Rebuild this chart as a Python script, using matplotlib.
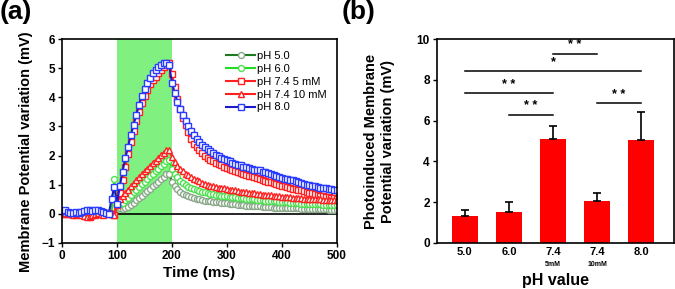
import matplotlib.pyplot as plt
import numpy as np

plt.rcParams['font.family'] = ['Liberation Sans', 'DejaVu Sans']

# ---- panel (a): time traces, one value every 5 ms from 0 to 500 ms ----
time_ms = np.arange(0, 505, 5)

ph50 = [0.02, 0.03, 0.01, -0.01, 0.02, 0.03, 0.0, 0.02, 0.01, -0.01, 0.02, 0.01, 0.02, 0.03, 0.01, 0.0, 0.02, 0.0, 0.01, 0.02,
        0.25, 0.18, 0.16, 0.18, 0.23, 0.3, 0.38, 0.46, 0.54, 0.62, 0.7, 0.78, 0.86, 0.94, 1.02, 1.1, 1.19, 1.27, 1.35, 1.38,
        1.1, 0.95, 0.84, 0.75, 0.68, 0.63, 0.6, 0.57, 0.55, 0.52, 0.5, 0.48, 0.45, 0.44, 0.42, 0.41, 0.4, 0.39, 0.38, 0.37,
        0.36, 0.35, 0.33, 0.32, 0.31, 0.3, 0.29, 0.28, 0.28, 0.27, 0.26, 0.25, 0.25, 0.24, 0.23, 0.22, 0.22, 0.21, 0.21, 0.2,
        0.2, 0.2, 0.19, 0.19, 0.19, 0.18, 0.18, 0.17, 0.17, 0.17, 0.16, 0.16, 0.16, 0.15, 0.15, 0.15, 0.15, 0.14, 0.14, 0.14,
        0.14]
ph60 = [0.03, 0.05, 0.02, 0.0, 0.04, 0.03, 0.01, 0.03, 0.02, 0.0, 0.04, 0.02, 0.03, 0.05, 0.02, 0.0, 0.03, 0.01, 0.02, 1.2,
        0.3, 0.32, 0.38, 0.46, 0.55, 0.65, 0.74, 0.83, 0.92, 1.01, 1.1, 1.19, 1.28, 1.37, 1.46, 1.55, 1.64, 1.72, 1.8, 1.84,
        1.55, 1.38, 1.25, 1.14, 1.05, 0.98, 0.92, 0.88, 0.85, 0.81, 0.78, 0.75, 0.73, 0.7, 0.68, 0.67, 0.65, 0.63, 0.62, 0.61,
        0.6, 0.58, 0.57, 0.56, 0.55, 0.54, 0.53, 0.52, 0.51, 0.5, 0.49, 0.48, 0.47, 0.46, 0.45, 0.45, 0.44, 0.43, 0.42, 0.41,
        0.4, 0.39, 0.39, 0.38, 0.37, 0.36, 0.36, 0.35, 0.35, 0.34, 0.33, 0.33, 0.33, 0.32, 0.32, 0.31, 0.31, 0.3, 0.3, 0.29,
        0.29]
ph74_5mm = [0.02, 0.0, -0.02, 0.03, 0.01, -0.03, 0.0, 0.02, -0.05, -0.08, -0.1, -0.06, -0.03, 0.0, 0.02, -0.02, 0.0, 0.03, 0.0, -0.05,
            0.3, 0.7, 1.15, 1.6, 2.05, 2.45, 2.85, 3.2, 3.5, 3.8, 4.05, 4.25, 4.45, 4.6, 4.72, 4.85, 4.95, 5.03, 5.12, 5.2,
            4.8, 4.35, 3.95, 3.6, 3.3, 3.05, 2.8, 2.58, 2.4, 2.28, 2.18, 2.08, 2.0, 1.92, 1.86, 1.8, 1.75, 1.7, 1.66, 1.62,
            1.58, 1.54, 1.5, 1.46, 1.43, 1.39, 1.36, 1.33, 1.3, 1.28, 1.26, 1.23, 1.2, 1.17, 1.14, 1.1, 1.08, 1.05, 1.02, 0.98,
            0.96, 0.94, 0.92, 0.9, 0.86, 0.84, 0.83, 0.8, 0.77, 0.75, 0.72, 0.7, 0.68, 0.65, 0.62, 0.6, 0.58, 0.57, 0.55, 0.53,
            0.52]
ph74_10mm = [-0.02, 0.01, 0.03, 0.0, -0.04, -0.02, 0.01, -0.03, -0.07, -0.12, -0.08, -0.04, -0.01, 0.02, 0.0, -0.03, 0.01, 0.02, -0.02, -0.04,
             0.38, 0.5, 0.6, 0.72, 0.83, 0.94, 1.05, 1.15, 1.26, 1.36, 1.46, 1.55, 1.65, 1.74, 1.83, 1.92, 2.02, 2.1, 2.18, 2.2,
             1.95, 1.78, 1.65, 1.55, 1.46, 1.38, 1.32, 1.26, 1.2, 1.15, 1.11, 1.07, 1.03, 1.0, 0.97, 0.94, 0.92, 0.9, 0.88, 0.87,
             0.85, 0.83, 0.81, 0.8, 0.78, 0.76, 0.75, 0.73, 0.72, 0.71, 0.7, 0.68, 0.67, 0.66, 0.65, 0.64, 0.63, 0.62, 0.61, 0.6,
             0.59, 0.58, 0.57, 0.56, 0.55, 0.55, 0.54, 0.53, 0.52, 0.52, 0.51, 0.5, 0.5, 0.49, 0.49, 0.48, 0.48, 0.47, 0.47, 0.46,
             0.46]
ph80 = [0.08, 0.12, 0.06, 0.02, 0.04, 0.06, 0.01, 0.05, 0.1, 0.12, 0.14, 0.1, 0.11, 0.14, 0.1, 0.07, 0.03, -0.02, 0.52, 0.92,
        0.35, 0.95, 1.45, 1.9, 2.3, 2.7, 3.05, 3.4, 3.75, 4.05, 4.3, 4.5, 4.68, 4.83, 4.95, 5.05, 5.13, 5.18, 5.2, 5.1,
        4.5, 4.15, 3.85, 3.6, 3.38, 3.18, 3.0, 2.85, 2.7, 2.58, 2.48, 2.38, 2.3, 2.22, 2.15, 2.08, 2.02, 1.97, 1.92, 1.88,
        1.84, 1.8, 1.76, 1.72, 1.68, 1.66, 1.62, 1.6, 1.57, 1.55, 1.52, 1.5, 1.49, 1.45, 1.42, 1.4, 1.36, 1.33, 1.3, 1.25,
        1.23, 1.2, 1.2, 1.17, 1.15, 1.12, 1.08, 1.05, 1.03, 1.0, 0.98, 0.96, 0.95, 0.92, 0.9, 0.88, 0.87, 0.85, 0.84, 0.82,
        0.8]

# ---- panel (b): bar summary ----
bar_labels = ['5.0', '6.0', '7.4', '7.4', '8.0']
bar_sublabels = ['', '', '5mM', '10mM', '']
bar_values = [1.3, 1.5, 5.1, 2.05, 5.05]
bar_errors = [0.3, 0.5, 0.65, 0.4, 1.4]
# significance brackets: (from bar, to bar, height, text)
sig_pairs = [(2, 3, 9.3, '* *'), (0, 4, 8.45, '*'), (0, 2, 7.35, '* *'),
             (1, 2, 6.3, '* *'), (3, 4, 6.85, '* *')]

fig = plt.figure(figsize=(6.75, 2.89), dpi=100)
ax1 = fig.add_axes([0.092, 0.160, 0.407, 0.704])
ax2 = fig.add_axes([0.647, 0.160, 0.351, 0.704])

# --------------------
# (a) traces
# --------------------
ax1.axvspan(100, 200, color='#80f080', zorder=0, lw=0)
ax1.axhline(0, color='black', lw=1.2, zorder=1)

styles = [
    (ph50, 'pH 5.0', '#1f7a1f', 'o', '#8aa88a'),
    (ph60, 'pH 6.0', '#22dd22', 'o', '#4fe04f'),
    (ph74_5mm, 'pH 7.4 5 mM', '#ff2020', 's', '#ff2020'),
    (ph74_10mm, 'pH 7.4 10 mM', '#ff2020', '^', '#ff2020'),
    (ph80, 'pH 8.0', '#1a1acc', 's', '#2a3cff'),
]
for vals, lab, lc, mk, mec in styles:
    ax1.plot(time_ms, vals, color=lc, lw=1.5, marker=mk, markersize=4.3,
             markerfacecolor='white', markeredgecolor=mec, markeredgewidth=1.0,
             label=lab, zorder=2)

ax1.set_xlim(0, 500)
ax1.set_ylim(-1, 6)
ax1.set_xticks([0, 100, 200, 300, 400, 500])
ax1.set_yticks([-1, 0, 1, 2, 3, 4, 5, 6])
ax1.tick_params(direction='out', length=3, width=1, labelsize=8.5, pad=2)
for t in ax1.get_xticklabels() + ax1.get_yticklabels():
    t.set_fontweight('bold')
for s in ax1.spines.values():
    s.set_linewidth(1.2)
ax1.set_xlabel('Time (ms)', fontsize=11, fontweight='bold', labelpad=3)
ax1.set_ylabel('Membrane Potential variation (mV)', fontsize=10.5, fontweight='bold')
ax1.yaxis.set_label_coords(-0.105, 0.45)
ax1.legend(loc='upper right', frameon=False, fontsize=8, numpoints=1,
           handlelength=2.6, handletextpad=0.2, labelspacing=0.25,
           borderaxespad=0.5, bbox_to_anchor=(1.0, 0.99))

# --------------------
# (b) bars
# --------------------
xpos = np.arange(len(bar_values))
ax2.bar(xpos, bar_values, width=0.6, color='#ff0000', zorder=2)
ax2.errorbar(xpos, bar_values, yerr=[np.zeros(len(bar_errors)), bar_errors],
             fmt='none', ecolor='black', elinewidth=1.2, capsize=3, capthick=1.2, zorder=3)

for i, j, h, txt in sig_pairs:
    ax2.plot([xpos[i], xpos[j]], [h, h], color='black', lw=1.1)
    ax2.text((xpos[i] + xpos[j]) / 2, h + 0.12, txt, ha='center', va='bottom',
             fontsize=9, fontweight='bold')

ax2.set_xlim(-0.64, 4.74)
ax2.set_ylim(0, 10)
ax2.set_yticks([0, 2, 4, 6, 8, 10])
ax2.set_xticks(xpos)
ax2.set_xticklabels(bar_labels)
ax2.tick_params(axis='y', direction='out', length=3, width=1, labelsize=8.5, pad=2)
ax2.tick_params(axis='x', length=0, labelsize=8, pad=3)
for t in ax2.get_xticklabels() + ax2.get_yticklabels():
    t.set_fontweight('bold')
for k, sub in enumerate(bar_sublabels):
    if sub:
        ax2.text(xpos[k], -0.92, sub, ha='center', va='top', fontsize=5,
                 fontweight='bold', transform=ax2.transData)
for s in ax2.spines.values():
    s.set_linewidth(1.2)
ax2.set_xlabel('pH value', fontsize=11.5, fontweight='bold')
ax2.xaxis.set_label_coords(0.5, -0.15)
ax2.set_ylabel('Photoinduced Membrane\nPotential variation (mV)', fontsize=10.5,
               fontweight='bold', linespacing=1.3)
ax2.yaxis.set_label_coords(-0.175, 0.5)

fig.text(0.0, 1.0, '(a)', fontsize=19, fontweight='bold', ha='left', va='top')
fig.text(0.506, 1.0, '(b)', fontsize=19, fontweight='bold', ha='left', va='top')

fig.savefig('out.png', dpi=100)
